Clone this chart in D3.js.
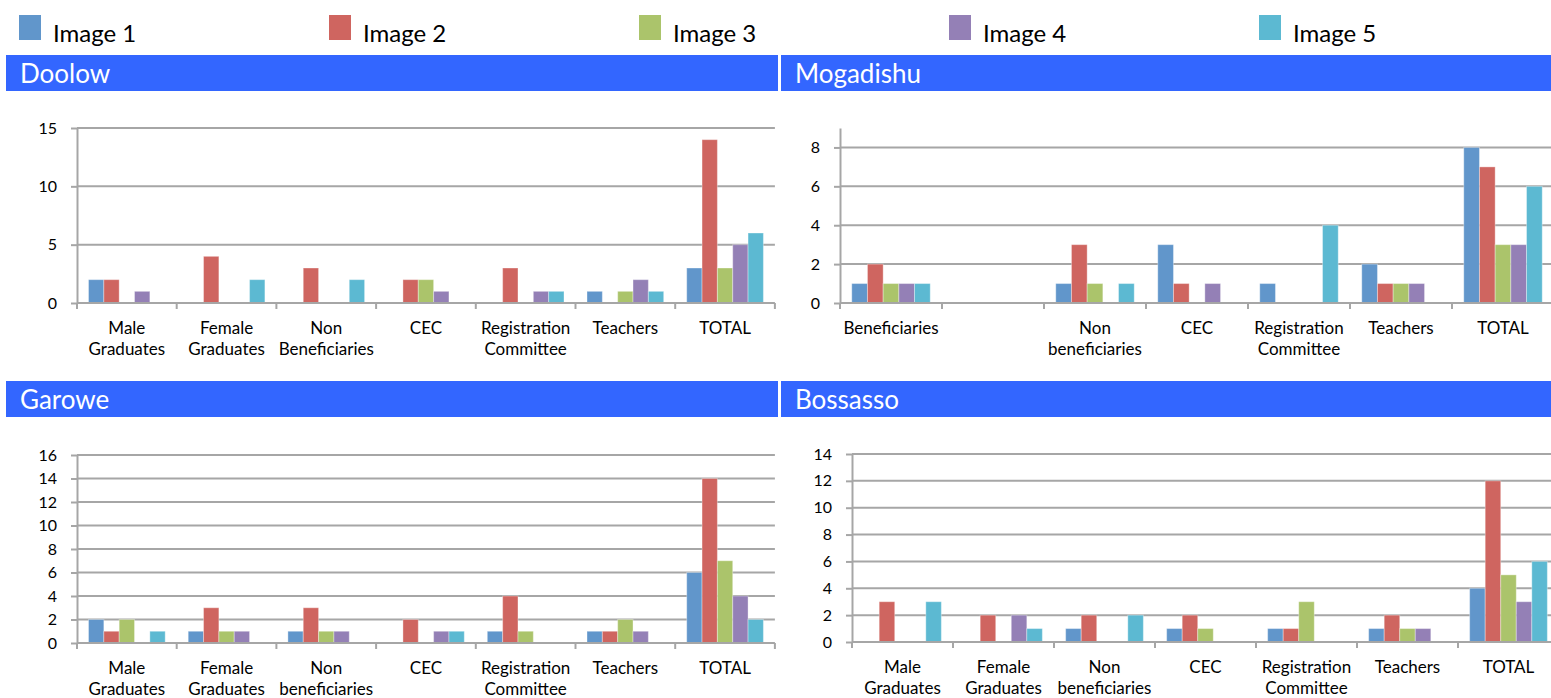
<!DOCTYPE html>
<html>
<head>
<meta charset="utf-8">
<script src="https://cdn.jsdelivr.net/npm/d3@7"></script>
<style>
  body { margin: 0; background: #fff; }
  svg { display: block; font-family: Lato, "Open Sans", sans-serif; }
</style>
</head>
<body>
<svg id="chart"></svg>
<script>
// series shown in the legend
var seriesNames = ['Image 1', 'Image 2', 'Image 3', 'Image 4', 'Image 5'];
var seriesColors = ['#6196CB', '#CF6560', '#ABC46B', '#9480B6', '#5CB9D2'];

// Doolow
var doolowCats = ['Male Graduates', 'Female Graduates', 'Non Beneficiaries', 'CEC', 'Registration Committee', 'Teachers', 'TOTAL'];
var doolowValues = [
    [2, 2, 0, 1, 0],
    [0, 4, 0, 0, 2],
    [0, 3, 0, 0, 2],
    [0, 2, 2, 1, 0],
    [0, 3, 0, 1, 1],
    [1, 0, 1, 2, 1],
    [3, 14, 3, 5, 6]
];
var doolowTicks = [0, 5, 10, 15];

// Mogadishu (second slot has no label and no bars)
var mogadishuCats = ['Beneficiaries', '', 'Non beneficiaries', 'CEC', 'Registration Committee', 'Teachers', 'TOTAL'];
var mogadishuValues = [
    [1, 2, 1, 1, 1],
    [0, 0, 0, 0, 0],
    [1, 3, 1, 0, 1],
    [3, 1, 0, 1, 0],
    [1, 0, 0, 0, 4],
    [2, 1, 1, 1, 0],
    [8, 7, 3, 3, 6]
];
var mogadishuTicks = [0, 2, 4, 6, 8];

// Garowe
var garoweCats = ['Male Graduates', 'Female Graduates', 'Non beneficiaries', 'CEC', 'Registration Committee', 'Teachers', 'TOTAL'];
var garoweValues = [
    [2, 1, 2, 0, 1],
    [1, 3, 1, 1, 0],
    [1, 3, 1, 1, 0],
    [0, 2, 0, 1, 1],
    [1, 4, 1, 0, 0],
    [1, 1, 2, 1, 0],
    [6, 14, 7, 4, 2]
];
var garoweTicks = [0, 2, 4, 6, 8, 10, 12, 14, 16];

// Bossasso
var bossassoCats = ['Male Graduates', 'Female Graduates', 'Non beneficiaries', 'CEC', 'Registration Committee', 'Teachers', 'TOTAL'];
var bossassoValues = [
    [0, 3, 0, 0, 3],
    [0, 2, 0, 2, 1],
    [1, 2, 0, 0, 2],
    [1, 2, 1, 0, 0],
    [1, 1, 3, 0, 0],
    [1, 2, 1, 1, 0],
    [4, 12, 5, 3, 6]
];
var bossassoTicks = [0, 2, 4, 6, 8, 10, 12, 14];

var W = 1551, H = 698;
var gridColor = '#A6A6A6';

var svg = d3.select('#chart')
    .attr('width', W)
    .attr('height', H);

// legend along the top
var legend = svg.append('g');
seriesNames.forEach(function(name, i) {
    var lx = 19 + i * 310;
    legend.append('rect')
        .attr('x', lx).attr('y', 15)
        .attr('width', 22).attr('height', 25)
        .attr('fill', seriesColors[i]);
    legend.append('text')
        .attr('x', lx + 34).attr('y', 42)
        .attr('font-size', 24)
        .attr('fill', '#000')
        .text(name);
});

var panels = [
    {title: 'Doolow', cats: doolowCats, values: doolowValues, ticks: doolowTicks, yMax: 15,
     hx: 6, hw: 772, hy: 55, left: 77, catW: 99.7, top: 128, bottom: 303},
    {title: 'Mogadishu', cats: mogadishuCats, values: mogadishuValues, ticks: mogadishuTicks, yMax: 9,
     hx: 781, hw: 770, hy: 55, left: 840, catW: 102, top: 128, bottom: 303},
    {title: 'Garowe', cats: garoweCats, values: garoweValues, ticks: garoweTicks, yMax: 16,
     hx: 6, hw: 772, hy: 381, left: 77, catW: 99.7, top: 455, bottom: 643},
    {title: 'Bossasso', cats: bossassoCats, values: bossassoValues, ticks: bossassoTicks, yMax: 14,
     hx: 781, hw: 770, hy: 381, left: 852, catW: 101, top: 454, bottom: 642}
];

function drawPanel(p) {
    var g = svg.append('g');

    // blue title strip
    g.append('rect')
        .attr('x', p.hx).attr('y', p.hy)
        .attr('width', p.hw).attr('height', 36)
        .attr('fill', '#3366FF');
    g.append('text')
        .attr('x', p.hx + 14).attr('y', p.hy + 28)
        .attr('font-size', 26)
        .attr('fill', '#fff')
        .text(p.title);

    var right = p.left + p.catW * p.cats.length;

    var x = d3.scaleBand()
        .domain(d3.range(p.cats.length))
        .range([p.left, right])
        .padding(0);

    // Excel style gap width of 150%
    var bw = p.catW / 6.5;
    var x1 = d3.scaleBand()
        .domain(d3.range(seriesNames.length))
        .range([0.75 * bw, 0.75 * bw + 5 * bw])
        .padding(0);

    var y = d3.scaleLinear()
        .domain([0, p.yMax])
        .range([p.bottom, p.top]);

    // horizontal gridlines
    g.selectAll('.grid')
        .data(p.ticks.filter(function(t) { return t > 0; }))
        .enter().append('line')
        .attr('x1', p.left).attr('x2', right)
        .attr('y1', function(d) { return y(d); })
        .attr('y2', function(d) { return y(d); })
        .attr('stroke', gridColor)
        .attr('stroke-width', 2);

    // bars, keeping the series index with each value
    var bars = [];
    p.values.forEach(function(row, ci) {
        row.forEach(function(v, si) {
            if (v > 0) bars.push({ci: ci, si: si, v: v});
        });
    });
    g.selectAll('.bar')
        .data(bars)
        .enter().append('rect')
        .attr('class', 'bar')
        .attr('x', function(d) { return x(d.ci) + x1(d.si); })
        .attr('width', x1.bandwidth())
        .attr('y', function(d) { return y(d.v); })
        .attr('height', function(d) { return y(0) - y(d.v); })
        .attr('fill', function(d) { return seriesColors[d.si]; })
        .attr('stroke', 'rgba(255,255,255,0.35)')
        .attr('stroke-width', 1);

    // y axis
    var yAxis = g.append('g')
        .attr('transform', 'translate(' + p.left + ',0)')
        .call(d3.axisLeft(y).tickValues(p.ticks).tickSize(6).tickPadding(14).tickSizeOuter(0));
    yAxis.select('.domain').attr('stroke', gridColor).attr('stroke-width', 2);
    yAxis.selectAll('.tick line').attr('stroke', gridColor).attr('stroke-width', 2);
    yAxis.selectAll('.tick text')
        .attr('font-size', 16)
        .attr('font-family', 'Lato, "Open Sans", sans-serif')
        .attr('fill', '#000');

    // x axis line
    g.append('line')
        .attr('x1', p.left).attr('x2', right)
        .attr('y1', y(0)).attr('y2', y(0))
        .attr('stroke', gridColor)
        .attr('stroke-width', 2);

    // category boundary ticks
    g.selectAll('.xtick')
        .data(d3.range(p.cats.length + 1))
        .enter().append('line')
        .attr('x1', function(d) { return p.left + d * x.step(); })
        .attr('x2', function(d) { return p.left + d * x.step(); })
        .attr('y1', y(0)).attr('y2', y(0) + 6)
        .attr('stroke', gridColor)
        .attr('stroke-width', 2);

    // category labels, wrapped word by word
    p.cats.forEach(function(c, ci) {
        if (!c) return;
        var t = g.append('text')
            .attr('text-anchor', 'middle')
            .attr('font-size', 17)
            .attr('fill', '#000');
        c.split(' ').forEach(function(word, li) {
            t.append('tspan')
                .attr('x', x(ci) + x.bandwidth() / 2)
                .attr('y', y(0) + 31 + li * 21)
                .text(word);
        });
    });
}

panels.forEach(drawPanel);
</script>
</body>
</html>
